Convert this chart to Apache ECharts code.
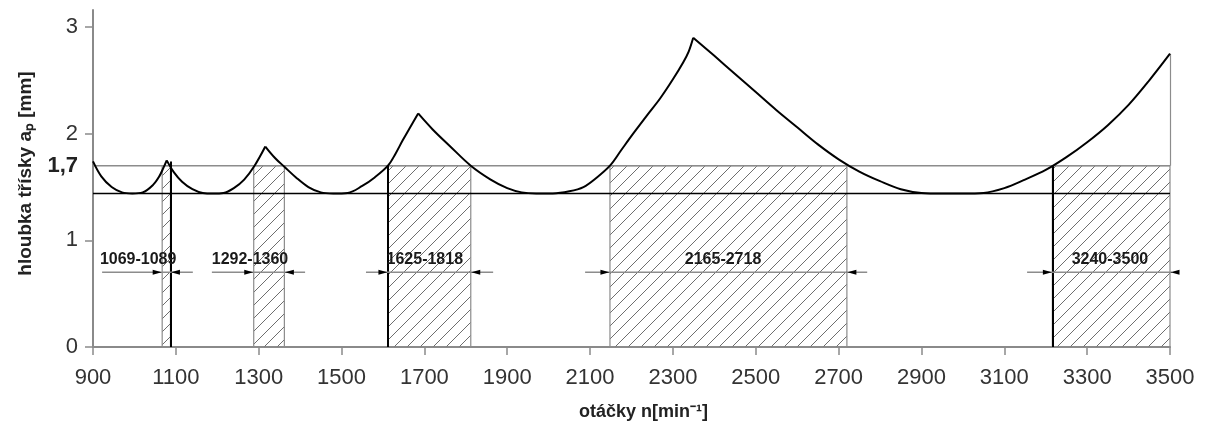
<!DOCTYPE html>
<html>
<head>
<meta charset="utf-8">
<script src="https://cdn.jsdelivr.net/npm/echarts@6.0.0/dist/echarts.min.js"></script>
<style>
  html, body { margin: 0; padding: 0; background: #fff; }
  #chart { width: 1206px; height: 437px; }
</style>
</head>
<body>
<div id="chart"></div>
<script>
// axis ticks
const xTicks = [900, 1100, 1300, 1500, 1700, 1900, 2100, 2300, 2500, 2700, 2900, 3100, 3300, 3500];
const yTicks = [0, 1, 2, 3];
const yLabels = [0, 1, 1.7, 2, 3];

// stability lobes, one array per lobe (cusp to cusp)
const lobe1 = [[900, 1.74], [920, 1.6], [945, 1.5], [970, 1.45], [995, 1.44], [1020, 1.45], [1045, 1.52], [1060, 1.6], [1070, 1.68], [1078, 1.75]];
const lobe2 = [[1078, 1.75], [1095, 1.64], [1115, 1.55], [1140, 1.48], [1165, 1.445], [1190, 1.44], [1215, 1.445], [1240, 1.49], [1265, 1.57], [1290, 1.7], [1316, 1.88]];
const lobe3 = [[1316, 1.88], [1340, 1.77], [1362, 1.69], [1390, 1.59], [1420, 1.5], [1450, 1.45], [1480, 1.44], [1515, 1.445], [1550, 1.51], [1580, 1.59], [1612, 1.7], [1630, 1.81], [1648, 1.94], [1685, 2.19]];
const lobe4 = [[1685, 2.19], [1720, 2.04], [1760, 1.89], [1812, 1.7], [1860, 1.57], [1900, 1.49], [1935, 1.45], [1970, 1.44], [2010, 1.44], [2050, 1.46], [2084, 1.5], [2115, 1.585], [2148, 1.7], [2175, 1.845], [2204, 2.0], [2237, 2.17], [2269, 2.33], [2300, 2.51], [2325, 2.67], [2338, 2.77], [2349, 2.9]];
const lobe5 = [[2349, 2.9], [2400, 2.73], [2450, 2.56], [2500, 2.39], [2550, 2.22], [2600, 2.06], [2650, 1.9], [2700, 1.76], [2750, 1.645], [2800, 1.555], [2850, 1.48], [2900, 1.445], [2950, 1.44], [3000, 1.44], [3050, 1.445], [3100, 1.49], [3150, 1.57], [3200, 1.66], [3250, 1.78], [3300, 1.92], [3350, 2.08], [3400, 2.27], [3450, 2.5], [3500, 2.75]];
const lobes = [lobe1, lobe2, lobe3, lobe4, lobe5];

const limitLevel = 1.7;
const minLevel = 1.44;

// stable speed ranges (hatched) and their dimension annotations
const regionStart = [1067, 1288, 1612, 2148, 3216];
const regionEnd = [1087, 1362, 1812, 2720, 3500];
const dimLabels = ["1069-1089", "1292-1360", "1625-1818", "2165-2718", "3240-3500"];
const dimLineStart = [922, 1187, 1559, 2088, 3155];
const dimLineEnd = [1141, 1412, 1866, 2769, 3549];
const dimLabelX = [1009, 1279, 1701, 2421, 3355];
const dimLevel = 0.7;

// black edges drawn up to the curve
const blackEdges = [[1087, 1.74], [1612, 1.7], [3216, 1.7]];
const endEdge = [3500, 2.75];

const font = "Liberation Sans, Arial, sans-serif";

function hatchPattern() {
  let c = document.createElement("canvas");
  c.width = 13;
  c.height = 13;
  let g = c.getContext("2d");
  g.strokeStyle = "#6e6e6e";
  g.lineWidth = 1;
  g.beginPath();
  g.moveTo(0, 13); g.lineTo(13, 0);
  g.moveTo(-2, 2); g.lineTo(2, -2);
  g.moveTo(11, 15); g.lineTo(15, 11);
  g.stroke();
  return c;
}

let myChart = echarts.init(document.getElementById("chart"));

let series = [];

// hatched ranges + 1.7 line
series.push({
  type: "line",
  data: [[900, limitLevel], [3500, limitLevel]],
  showSymbol: false,
  silent: true,
  lineStyle: { color: "#8c8c8c", width: 1.5 },
  z: 3,
  markArea: {
    silent: true,
    itemStyle: {
      color: { image: hatchPattern(), repeat: "repeat" },
      borderColor: "#8c8c8c",
      borderWidth: 1.2,
    },
    data: regionStart.map((s, i) => [{ xAxis: s, yAxis: 0 }, { xAxis: regionEnd[i], yAxis: limitLevel }]),
  },
  markLine: {
    silent: true,
    symbol: ["none", "none"],
    label: { show: false },
    data: blackEdges.map((p) => [
      { coord: [p[0], 0], lineStyle: { color: "#000", width: 2, type: "solid" } },
      { coord: [p[0], p[1]] },
    ]).concat([[
      { coord: [endEdge[0], limitLevel], lineStyle: { color: "#8c8c8c", width: 1.2, type: "solid" } },
      { coord: [endEdge[0], endEdge[1]] },
    ]]),
  },
});

// minimum (lobe bottom) line
series.push({
  type: "line",
  data: [[900, minLevel], [3500, minLevel]],
  showSymbol: false,
  silent: true,
  lineStyle: { color: "#000", width: 1.5 },
  z: 4,
});

// lobes
lobes.forEach((lobe) => {
  series.push({
    type: "line",
    data: lobe,
    smooth: 0.35,
    showSymbol: false,
    silent: true,
    lineStyle: { color: "#000", width: 2 },
    z: 6,
  });
});

// dimension lines
dimLineStart.forEach((s, i) => {
  series.push({
    type: "line",
    data: [[s, dimLevel], [dimLineEnd[i], dimLevel]],
    showSymbol: false,
    silent: true,
    clip: false,
    lineStyle: { color: "#8c8c8c", width: 1.5 },
    z: 5,
  });
});

// arrow heads pointing at the range edges
series.push({
  type: "scatter",
  data: regionStart.map((s) => [s, dimLevel]),
  symbol: "triangle",
  symbolSize: [5, 9],
  symbolRotate: -90,
  symbolOffset: [-5, 0],
  clip: false,
  silent: true,
  itemStyle: { color: "#000", opacity: 1 },
  z: 7,
});
series.push({
  type: "scatter",
  data: regionEnd.map((e) => [e, dimLevel]),
  symbol: "triangle",
  symbolSize: [5, 9],
  symbolRotate: 90,
  symbolOffset: [5, 0],
  clip: false,
  silent: true,
  itemStyle: { color: "#000", opacity: 1 },
  z: 7,
});

// range labels
series.push({
  type: "scatter",
  data: dimLabelX.map((x, i) => ({ value: [x, dimLevel], name: dimLabels[i] })),
  symbolSize: 0,
  clip: false,
  silent: true,
  itemStyle: { opacity: 1 },
  label: {
    show: true,
    position: "top",
    distance: 5,
    formatter: "{b}",
    color: "#1a1a1a",
    fontFamily: font,
    fontWeight: "bold",
    fontSize: 16,
  },
  z: 8,
});

let option = {
  animation: false,
  backgroundColor: "#fff",
  grid: { left: 93, right: 36, top: 10, bottom: 90 },
  xAxis: {
    type: "value",
    min: 900,
    max: 3500,
    splitLine: { show: false },
    axisLine: { lineStyle: { color: "#8a8a8a", width: 2 } },
    axisTick: { customValues: xTicks, length: 8, lineStyle: { color: "#8a8a8a", width: 1.5 } },
    axisLabel: {
      customValues: xTicks,
      fontSize: 22,
      color: "#333",
      fontFamily: font,
      margin: 20,
      formatter: function (v) {
        return String(v);
      },
    },
    name: "otáčky n[min⁻¹]",
    nameLocation: "middle",
    nameGap: 56,
    nameTextStyle: { fontSize: 18, fontWeight: "bold", color: "#222", fontFamily: font, padding: [0, 0, 0, 24] },
  },
  yAxis: {
    type: "value",
    min: 0,
    max: 3.16,
    splitLine: { show: false },
    axisLine: { show: true, lineStyle: { color: "#8a8a8a", width: 2 } },
    axisTick: { show: true, customValues: yTicks, length: 8, lineStyle: { color: "#8a8a8a", width: 1.5 } },
    axisLabel: {
      customValues: yLabels,
      fontSize: 22,
      color: "#333",
      fontFamily: font,
      margin: 15,
      formatter: function (v) {
        return v === 1.7 ? "{b|1,7}" : String(v);
      },
      rich: { b: { fontSize: 22, fontWeight: "bold", color: "#222", fontFamily: font } },
    },
    name: "hloubka třísky aₚ [mm]",
    nameLocation: "middle",
    nameRotate: 90,
    nameGap: 58,
    nameTextStyle: { fontSize: 19, fontWeight: "bold", color: "#222", fontFamily: font, padding: [0, 0, 0, 10] },
  },
  series: series,
};
myChart.setOption(option);
</script>
</body>
</html>
